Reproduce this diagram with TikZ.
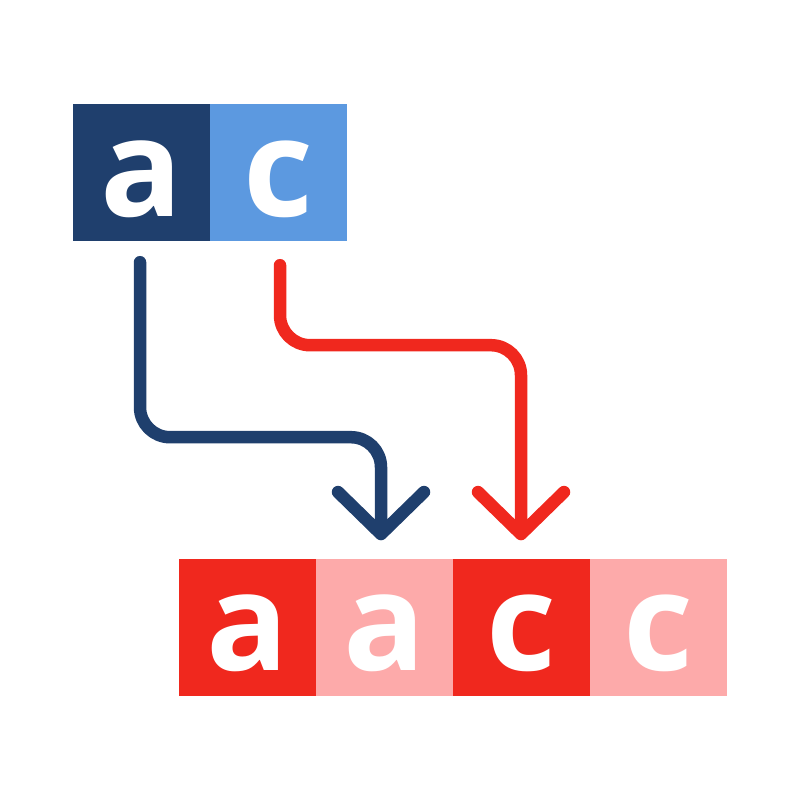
\documentclass[tikz,border=0pt]{standalone}
\usepackage{fontspec}
\setmainfont{Open Sans}
\usetikzlibrary{arrows.meta}
\definecolor{darkblue}{HTML}{1F3F6D}
\definecolor{lightblue}{HTML}{5C99E0}
\definecolor{brightred}{HTML}{F0281E}
\definecolor{palered}{HTML}{FDAAAA}
\tikzset{
  cell/.style={minimum width=137pt, minimum height=137pt, inner sep=0pt,
    text height=112pt, text depth=25pt, text=white,
    font=\fontsize{136}{136}\selectfont\bfseries},
  route/.style={line width=12.5pt, line cap=round, line join=round,
    rounded corners=30pt,
    -{Straight Barb[length=42pt, width=86pt, round]}},
}
\begin{document}
\begin{tikzpicture}[x=1pt, y=-1pt]
\path[use as bounding box] (0,0) rectangle (800,800);
\node[cell, fill=darkblue] (ta) at (141.5,172.5) {a};
\node[cell, fill=lightblue] (tc) at (278.5,172.5) {c};
\node[cell, fill=brightred] (b1) at (247.5,627) {a};
\node[cell, fill=palered] (b2) at (384.5,627) {a};
\node[cell, fill=brightred] (b3) at (521.5,627) {c};
\node[cell, fill=palered] (b4) at (658.5,627) {c};
\coordinate (s1) at ([xshift=-1.5pt, yshift=-21pt]ta.south);
\coordinate (s2) at ([xshift=1.5pt, yshift=-24pt]tc.south);
\coordinate (e1) at ([xshift=-3.5pt, yshift=18pt]b2.north);
\coordinate (e2) at ([xshift=-0.5pt, yshift=18pt]b3.north);
\draw[route, darkblue] (s1) -- ++(0,175) -| (e1);
\draw[route, brightred] (s2) -- ++(0,80) -| (e2);
\end{tikzpicture}
\end{document}
